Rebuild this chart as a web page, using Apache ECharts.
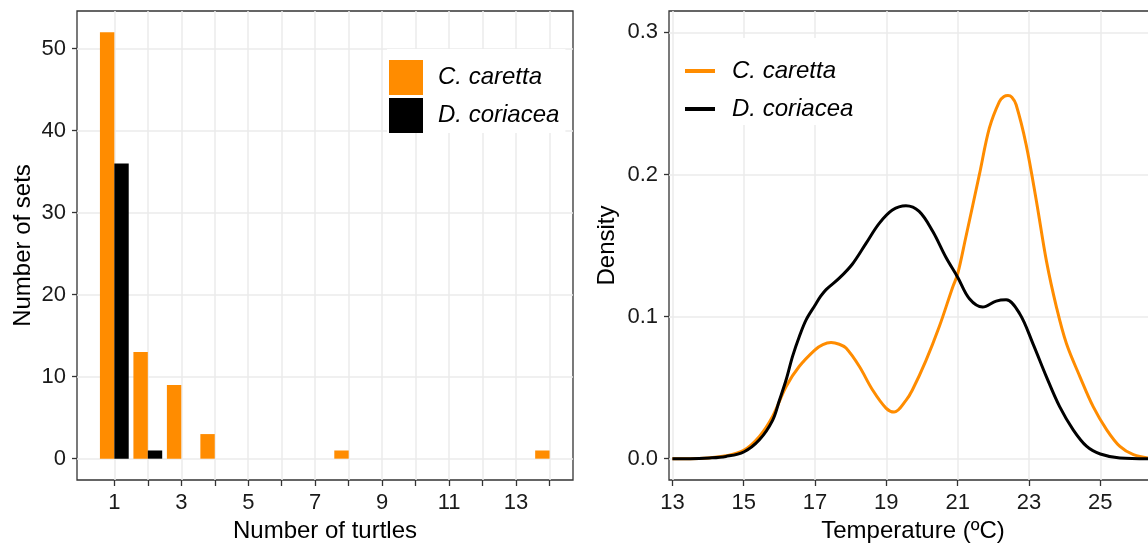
<!DOCTYPE html>
<html>
<head>
<meta charset="utf-8">
<script src="https://cdn.jsdelivr.net/npm/echarts@6/dist/echarts.min.js"></script>
<style>
html,body{margin:0;padding:0;background:#fff;}
#c{width:1148px;height:543px;}
</style>
</head>
<body>
<div id="c"></div>
<script>
// ---- Left panel: number of sets by number of turtles ----
const turtleNumbers = [1,2,3,4,5,6,7,8,9,10,11,12,13,14];
const carettaSets   = [52,13,9,3,0,0,0,1,0,0,0,0,0,1];
const coriaceaSets  = [36,1,0,0,0,0,0,0,0,0,0,0,0,0];
const turtleTicks      = [1,2,3,4,5,6,7,8,9,10,11,12,13,14];
const turtleTickLabels = [1,3,5,7,9,11,13];
const setsTicks        = [0,10,20,30,40,50];

// ---- Right panel: temperature density ----
const carettaTemp    = [13.0,13.5,14.0,14.5,15.0,15.44,15.81,16.19,16.56,17.0,17.22,17.45,17.68,17.87,18.24,18.61,18.99,19.22,19.55,19.73,20.11,20.48,20.86,21.0,21.23,21.61,21.89,22.17,22.3,22.41,22.52,22.64,22.92,23.21,23.49,23.77,24.05,24.43,24.8,25.18,25.55,25.93,26.39,26.6];
const carettaDensity = [0.0,0.0,0.0005,0.002,0.0059,0.0157,0.0297,0.0508,0.065,0.0766,0.0803,0.0817,0.0805,0.0778,0.065,0.0485,0.0356,0.0328,0.041,0.0483,0.069,0.0926,0.1207,0.130,0.156,0.200,0.2327,0.2513,0.2548,0.2555,0.2543,0.249,0.221,0.181,0.139,0.1067,0.081,0.0576,0.0366,0.0203,0.0086,0.0028,0.0003,0.0001];
const coriaceaTemp    = [13.0,13.5,14.04,14.5,15.0,15.44,15.81,16.0,16.19,16.37,16.56,16.75,17.0,17.15,17.31,17.68,18.05,18.43,18.8,19.17,19.55,19.92,20.3,20.67,21.0,21.33,21.7,22.08,22.36,22.74,23.11,23.49,23.86,24.24,24.62,25.0,25.55,26.39,26.6];
const coriaceaDensity = [0.0,0.0,0.0005,0.0016,0.0047,0.0133,0.027,0.041,0.0555,0.072,0.086,0.0977,0.108,0.114,0.119,0.127,0.137,0.1515,0.1656,0.175,0.178,0.174,0.160,0.1417,0.1277,0.1125,0.1067,0.1109,0.1118,0.102,0.081,0.0576,0.0366,0.0203,0.0086,0.0033,0.0005,0.0,0.0];
const tempTicks    = [13,15,17,19,21,23,25];
const densityTicks = [0,0.1,0.2,0.3];

const seriesNames = ['C. caretta','D. coriacea'];
const ORANGE = '#FF8C00', BLACK = '#000000';
const FONT = "'Liberation Sans', Arial, sans-serif";
const GRID_LINE = {show:true, lineStyle:{color:'#EBEBEB', width:1.5}};
const TICK_STYLE = {color:'#333333', width:1.3};

function barRenderer(startOff, endOff) {
  return function (params, api) {
    const x = api.value(0), y = api.value(1);
    if (!y) return null;
    const p0 = api.coord([x + startOff, y]);
    const p1 = api.coord([x + endOff, 0]);
    return {
      type: 'rect',
      shape: {x: p0[0], y: p0[1], width: p1[0] - p0[0], height: p1[1] - p0[1]},
      style: {fill: api.visual('color')}
    };
  };
}

const chart = echarts.init(document.getElementById('c'), null, {renderer: 'canvas'});

const axisLabelBase = {color:'#1a1a1a', fontSize:22, fontFamily:FONT};
const nameStyle = {color:'#000', fontSize:24, fontFamily:FONT};
const noAxisLine = {show:false, onZero:false};

chart.setOption({
  backgroundColor: '#fff',
  animation: false,
  textStyle: {fontFamily: FONT},
  grid: [
    {left:77, top:11, width:496, height:469, show:true, borderColor:'#333333', borderWidth:1.3, backgroundColor:'#fff', containLabel:false, outerBoundsMode:'none'},
    {left:669, top:11, width:488, height:469, show:true, borderColor:'#333333', borderWidth:1.3, backgroundColor:'#fff', containLabel:false, outerBoundsMode:'none'}
  ],
  legend: [
    {
      data: seriesNames,
      orient: 'vertical',
      left: 387, top: 49,
      padding: [11, 6, 0, 2],
      itemWidth: 34, itemHeight: 35, itemGap: 3,
      icon: 'rect',
      backgroundColor: '#fff',
      selectedMode: false,
      textStyle: {fontSize:24, fontStyle:'italic', fontFamily:FONT, color:'#000', padding:[6,0,0,10]}
    },
    {
      data: seriesNames,
      orient: 'vertical',
      left: 676, top: 38,
      padding: [18, 10, 1, 9],
      itemWidth: 30, itemHeight: 4, itemGap: 8,
      icon: 'rect',
      backgroundColor: '#fff',
      selectedMode: false,
      textStyle: {fontSize:24, fontStyle:'italic', fontFamily:FONT, color:'#000', lineHeight:30, padding:[0,0,0,12]}
    }
  ],
  xAxis: [
    {
      type:'value', gridIndex:0, min:-0.115, max:14.70,
      axisLine:noAxisLine,
      axisTick:{show:true, inside:false, length:6, lineStyle:TICK_STYLE, customValues:turtleTicks},
      axisLabel:Object.assign({customValues:turtleTickLabels, margin:12}, axisLabelBase),
      splitLine:GRID_LINE,
      name:'Number of turtles', nameLocation:'middle', nameGap:38, nameTextStyle:nameStyle
    },
    {
      type:'value', gridIndex:1, min:12.905, max:26.59,
      axisLine:noAxisLine,
      axisTick:{show:true, inside:false, length:6, lineStyle:TICK_STYLE, customValues:tempTicks},
      axisLabel:Object.assign({customValues:tempTicks, margin:12}, axisLabelBase),
      splitLine:GRID_LINE,
      name:'Temperature (ºC)', nameLocation:'middle', nameGap:38, nameTextStyle:nameStyle
    }
  ],
  yAxis: [
    {
      type:'value', gridIndex:0, min:-2.6, max:54.6,
      axisLine:noAxisLine,
      axisTick:{show:true, inside:false, length:5, lineStyle:TICK_STYLE, customValues:setsTicks},
      axisLabel:Object.assign({customValues:setsTicks, margin:11}, axisLabelBase),
      splitLine:GRID_LINE,
      name:'Number of sets', nameLocation:'middle', nameGap:42, nameTextStyle:nameStyle
    },
    {
      type:'value', gridIndex:1, min:-0.015, max:0.315,
      axisLine:noAxisLine,
      axisTick:{show:true, inside:false, length:5, lineStyle:TICK_STYLE, customValues:densityTicks},
      axisLabel:Object.assign({customValues:densityTicks, margin:11, formatter:(v)=>Number(v).toFixed(1)}, axisLabelBase),
      splitLine:GRID_LINE,
      name:'Density', nameLocation:'middle', nameGap:50, nameTextStyle:nameStyle
    }
  ],
  series: [
    {
      name:seriesNames[0], type:'custom', xAxisIndex:0, yAxisIndex:0,
      itemStyle:{color:ORANGE},
      renderItem: barRenderer(-0.43, 0),
      encode:{x:0, y:1},
      data: turtleNumbers.map((n,i)=>[n, carettaSets[i]])
    },
    {
      name:seriesNames[1], type:'custom', xAxisIndex:0, yAxisIndex:0,
      itemStyle:{color:BLACK},
      renderItem: barRenderer(0, 0.43),
      encode:{x:0, y:1},
      data: turtleNumbers.map((n,i)=>[n, coriaceaSets[i]])
    },
    {
      name:seriesNames[0], type:'line', xAxisIndex:1, yAxisIndex:1,
      showSymbol:false, symbol:'none', smooth:0.35,
      lineStyle:{color:ORANGE, width:3}, itemStyle:{color:ORANGE},
      data: carettaTemp.map((t,i)=>[t, carettaDensity[i]])
    },
    {
      name:seriesNames[1], type:'line', xAxisIndex:1, yAxisIndex:1,
      showSymbol:false, symbol:'none', smooth:0.35,
      lineStyle:{color:BLACK, width:3}, itemStyle:{color:BLACK},
      data: coriaceaTemp.map((t,i)=>[t, coriaceaDensity[i]])
    }
  ]
});
</script>
</body>
</html>
